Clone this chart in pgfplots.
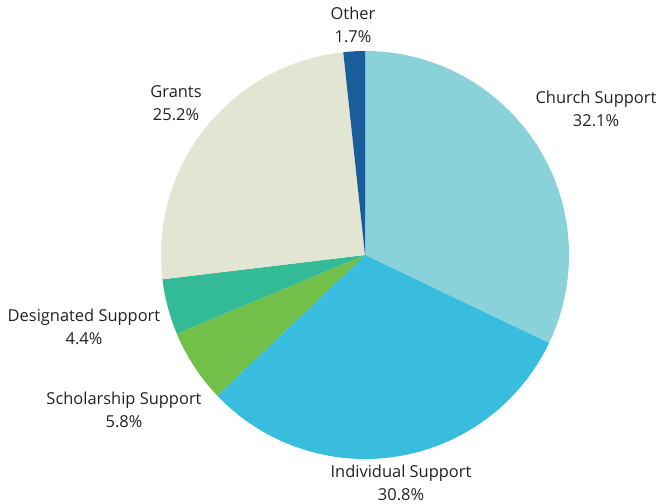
\documentclass[border=0pt]{standalone}
\usepackage{pgfplots}
\usepackage{pgfplotstable}
\pgfplotsset{compat=1.18}
\usepackage{fontspec}
\setmainfont{Open Sans}

\definecolor{sc0}{HTML}{89D2D9}
\definecolor{sc1}{HTML}{38BDDF}
\definecolor{sc2}{HTML}{72BF4A}
\definecolor{sc3}{HTML}{33BB98}
\definecolor{sc4}{HTML}{E2E5D2}
\definecolor{sc5}{HTML}{195D9A}
\definecolor{txt}{HTML}{222222}

% share of each slice, clockwise from 12 o'clock
\pgfplotstableread[col sep=comma]{
label,value
Church Support,32.1
Individual Support,30.8
Scholarship Support,5.8
Designated Support,4.4
Grants,25.2
Other,1.7
}\piedata

\begin{document}
\begin{tikzpicture}
% start/end angles of each slice
\def\cur{90}
\pgfplotsforeachungrouped \i in {0,...,5}{%
  \pgfplotstablegetelem{\i}{value}\of\piedata
  \pgfmathsetmacro\nxt{\cur-3.6*\pgfplotsretval}%
  \expandafter\xdef\csname sS\i\endcsname{\cur}%
  \expandafter\xdef\csname sE\i\endcsname{\nxt}%
  \xdef\cur{\nxt}%
}
\begin{axis}[
  hide axis, scale only axis,
  width=658bp, height=504bp,
  xmin=0, xmax=658, ymin=0, ymax=504,
  clip=false,
]
\pgfplotsinvokeforeach{0,...,5}{
  \fill[sc#1] (axis cs:365,249) -- ++(\csname sS#1\endcsname:204bp)
    arc[start angle=\csname sS#1\endcsname, end angle=\csname sE#1\endcsname, radius=204bp] -- cycle;
}
\tikzset{lbl/.style={align=center, text=txt, font=\fontsize{16.5}{22.5}\selectfont}}
\node[lbl] at (axis cs:596,395) {Church Support\\32.1\%};
\node[lbl] at (axis cs:401,21) {Individual Support\\30.8\%};
\node[lbl] at (axis cs:124,94) {Scholarship Support\\5.8\%};
\node[lbl] at (axis cs:84,177) {Designated Support\\4.4\%};
\node[lbl] at (axis cs:176,401) {Grants\\25.2\%};
\node[lbl] at (axis cs:353,479) {Other\\1.7\%};
\end{axis}
\pgfresetboundingbox
\path (current axis.south west) rectangle (current axis.north east);
\end{tikzpicture}
\end{document}
